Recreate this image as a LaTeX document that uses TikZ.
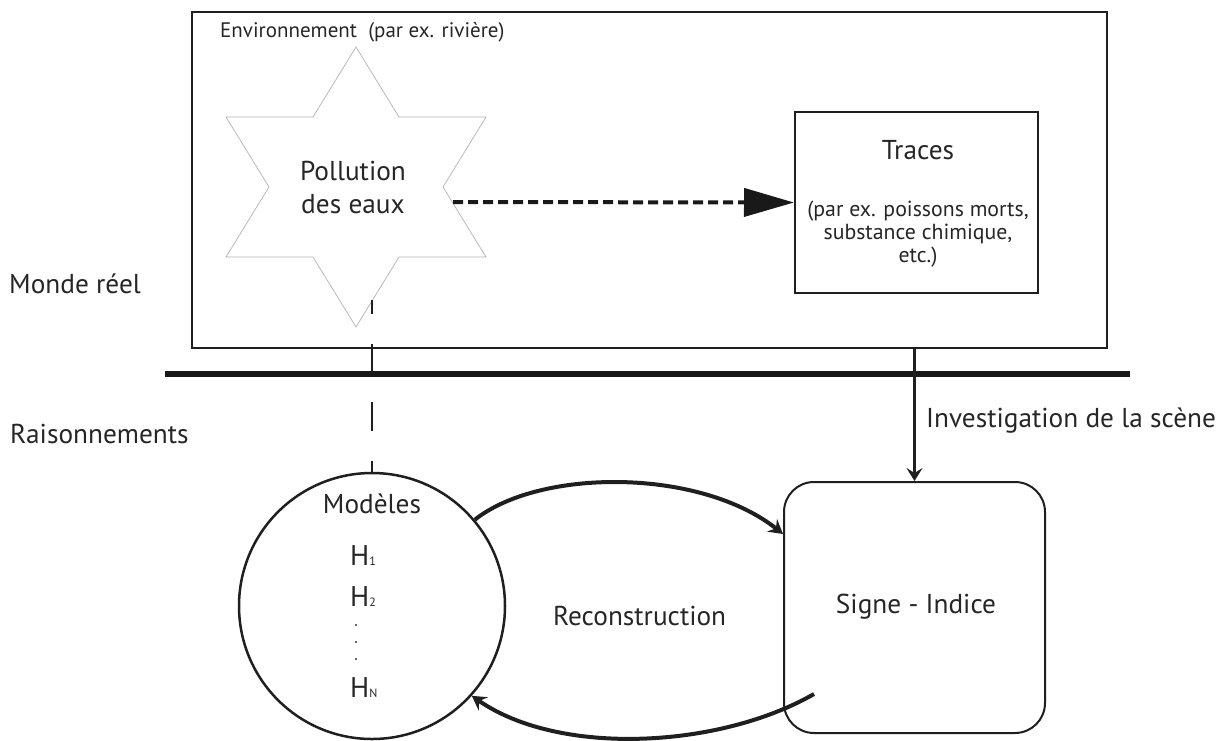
\documentclass[tikz,border=0pt]{standalone}
\usepackage{fontspec}
\setmainfont{PT Sans}
\usetikzlibrary{arrows.meta,calc}
\begin{document}
\begin{tikzpicture}[x=1pt,y=-1pt,
  lbl/.style={inner sep=0pt, font=\fontsize{27.3}{33}\selectfont, text=black!85},
  envtxt/.style={inner sep=0pt, font=\fontsize{21}{26}\selectfont, text=black!85},
  smalltxt/.style={inner sep=0pt, font=\fontsize{21.8}{23}\selectfont, text=black!85},
  hyp/.style={inner sep=0pt, font=\fontsize{28.5}{30}\selectfont, text=black!85},
  box/.style={draw=black!88, line width=2pt, inner sep=0pt},
  conn/.style={draw=black!88, line width=3pt},
  arc/.style={draw=black!88, line width=4pt, -{Stealth[length=14pt,width=16pt,inset=5pt]}},
  ]
\useasboundingbox (0,0) rectangle (1224,740);
% environment box
\node[box, minimum width=915pt, minimum height=336pt] (env) at (649.5,180) {};
\node[envtxt, anchor=base west] (envlbl) at (220,37) {Environnement\ \ (par ex. rivière)};
% star
\draw[draw=black!30, line width=0.7pt]
  (356,47) -- (399,117) -- (486,117) -- (443,187) -- (486,257) -- (399,257)
  -- (356,327) -- (313,257) -- (226,257) -- (269,187) -- (226,117) -- (313,117) -- cycle;
\node[lbl, align=center] (poll) at (353,187.3) {Pollution\\des eaux};
% traces box
\node[box, minimum width=243pt, minimum height=181pt] (traces) at (916.5,202.5) {};
\node[lbl, anchor=base] (tracest) at (918,159) {Traces};
\node[smalltxt, align=center] (tracesd) at (918,234.5) {(par ex. poissons morts,\\substance chimique,\\etc.)};
% dashed arrow
\coordinate (starR) at (453,202);
\draw[draw=black!90, line width=4pt, dash pattern=on 10pt off 5pt,
  -{Triangle[length=50pt,width=28pt]}] (starR) -- (traces.west);
% side labels
\node[lbl, anchor=base west] (monde) at (9,293) {Monde réel};
\node[lbl, anchor=base west] (rais) at (10,443) {Raisonnements};
% thick separator
\coordinate (sepL) at (165,374);
\coordinate (sepR) at (1130,374);
\draw[draw=black!90, line width=6pt] (sepL) -- (sepR);
% circle
\node[draw=black!88, line width=2.5pt, circle, minimum size=266pt, inner sep=0pt] (circ) at (372,606) {};
\node[lbl, anchor=base] (mod) at (372,513) {Modèles};
\node[hyp, anchor=base west] (h1) at (350,565) {H{\fontsize{12}{12}\selectfont 1}};
\node[hyp, anchor=base west] (h2) at (350,606) {H{\fontsize{12}{12}\selectfont 2}};
\node[hyp, anchor=base west] (hn) at (350,697) {H{\fontsize{12}{12}\selectfont N}};
\foreach \yy in {625,642,659} \fill[black!80] (356,\yy) circle (1.2pt);
% dashed vertical line
\coordinate (vtop) at (372,300);
\draw[draw=black!88, line width=2pt, dash pattern=on 11pt off 30pt on 29pt off 29pt on 29pt off 30pt on 15pt off 100pt] (circ.north) -- (vtop);
% sign box
\node[box, rounded corners=30pt, minimum width=261pt, minimum height=251pt] (sign) at (914.5,607.5) {};
\node[lbl] (signt) at (916,607) {Signe - Indice};
% investigation arrow
\draw[conn, -{Stealth[length=13pt,width=16pt,inset=5pt]}] (sign.north |- env.south) -- (sign.north);
\node[lbl, anchor=base west] (inv) at (926,427) {Investigation de la scène};
% reconstruction arcs
\coordinate (sigW) at ([yshift=73.5pt]sign.west);
\draw[arc] (circ.40) .. controls (540,468) and (700,468) .. (sigW);
\coordinate (bstart) at (814,694);
\draw[arc] (bstart) .. controls (720,748) and (560,757) .. (circ.-42);
\node[lbl, anchor=base west] (rec) at (553,625) {Reconstruction};
\end{tikzpicture}
\end{document}
